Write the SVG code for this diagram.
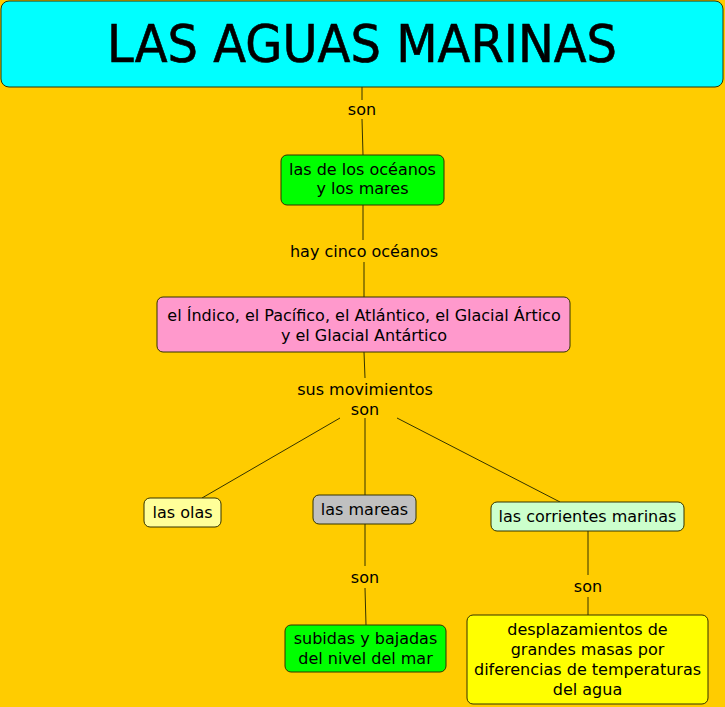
<svg xmlns="http://www.w3.org/2000/svg" width="725" height="707" viewBox="0 0 725 707">
<style>
.n{stroke:#333300;stroke-width:1}
.t{font-family:"DejaVu Sans",Verdana,sans-serif;font-size:16px;fill:#000;text-anchor:middle}
.c line{stroke:#333300;stroke-width:1}
</style>
<rect width="725" height="707" fill="#FFCC00"/>
<g class="c">
<line x1="362" y1="87" x2="362" y2="100"/>
<line x1="362" y1="119" x2="363" y2="155"/>
<line x1="363" y1="205" x2="363" y2="240"/>
<line x1="364" y1="262" x2="364" y2="297"/>
<line x1="364" y1="352" x2="365" y2="378"/>
<line x1="340" y1="418" x2="202" y2="498"/>
<line x1="365" y1="418" x2="365" y2="495"/>
<line x1="397" y1="418" x2="560" y2="502"/>
<line x1="365" y1="524" x2="365" y2="566"/>
<line x1="365" y1="588" x2="366" y2="625"/>
<line x1="588" y1="531" x2="588" y2="575"/>
<line x1="588" y1="597" x2="588" y2="615"/>
</g>
<g class="t">
<text x="362" y="115">son</text>
<text x="364" y="257">hay cinco océanos</text>
<text x="365" y="395">sus movimientos</text>
<text x="365" y="415">son</text>
<text x="365" y="583">son</text>
<text x="588" y="592">son</text>
</g>
<g id="title">
<rect class="n" x="1" y="1" width="722" height="86" rx="8" fill="#00FFFF"/>
<text transform="translate(362 62) scale(1 1.06)" x="0" y="0" style="font-family:'DejaVu Sans',sans-serif;font-size:48px;text-anchor:middle;stroke:#000;stroke-width:0.6">LAS AGUAS MARINAS</text>
</g>
<g id="oceanos">
<rect class="n" x="281" y="155" width="163" height="50" rx="6" fill="#00FF00"/>
<text class="t" x="362.5" y="175">las de los océanos</text>
<text class="t" x="362.5" y="194">y los mares</text>
</g>
<g id="cinco">
<rect class="n" x="157" y="297" width="413" height="55" rx="6" fill="#FF99CC"/>
<text class="t" x="364" y="321">el Índico, el Pacífico, el Atlántico, el Glacial Ártico</text>
<text class="t" x="364" y="341">y el Glacial Antártico</text>
</g>
<g id="olas">
<rect class="n" x="144" y="498" width="77" height="29" rx="6" fill="#FFFF99"/>
<text class="t" x="182.5" y="518">las olas</text>
</g>
<g id="mareas">
<rect class="n" x="313" y="495" width="103" height="29" rx="6" fill="#C0C0C0"/>
<text class="t" x="364.5" y="515">las mareas</text>
</g>
<g id="corrientes">
<rect class="n" x="491" y="502" width="193" height="29" rx="6" fill="#CCFFCC"/>
<text class="t" x="587.5" y="522">las corrientes marinas</text>
</g>
<g id="subidas">
<rect class="n" x="285" y="625" width="161" height="47" rx="6" fill="#00FF00"/>
<text class="t" x="365.5" y="644">subidas y bajadas</text>
<text class="t" x="365.5" y="664">del nivel del mar</text>
</g>
<g id="desplazamientos">
<rect class="n" x="467" y="615" width="241" height="89" rx="6" fill="#FFFF00"/>
<text class="t" x="587.5" y="635">desplazamientos de</text>
<text class="t" x="587.5" y="655">grandes masas por</text>
<text class="t" x="587.5" y="675">diferencias de temperaturas</text>
<text class="t" x="587.5" y="695">del agua</text>
</g>
</svg>
